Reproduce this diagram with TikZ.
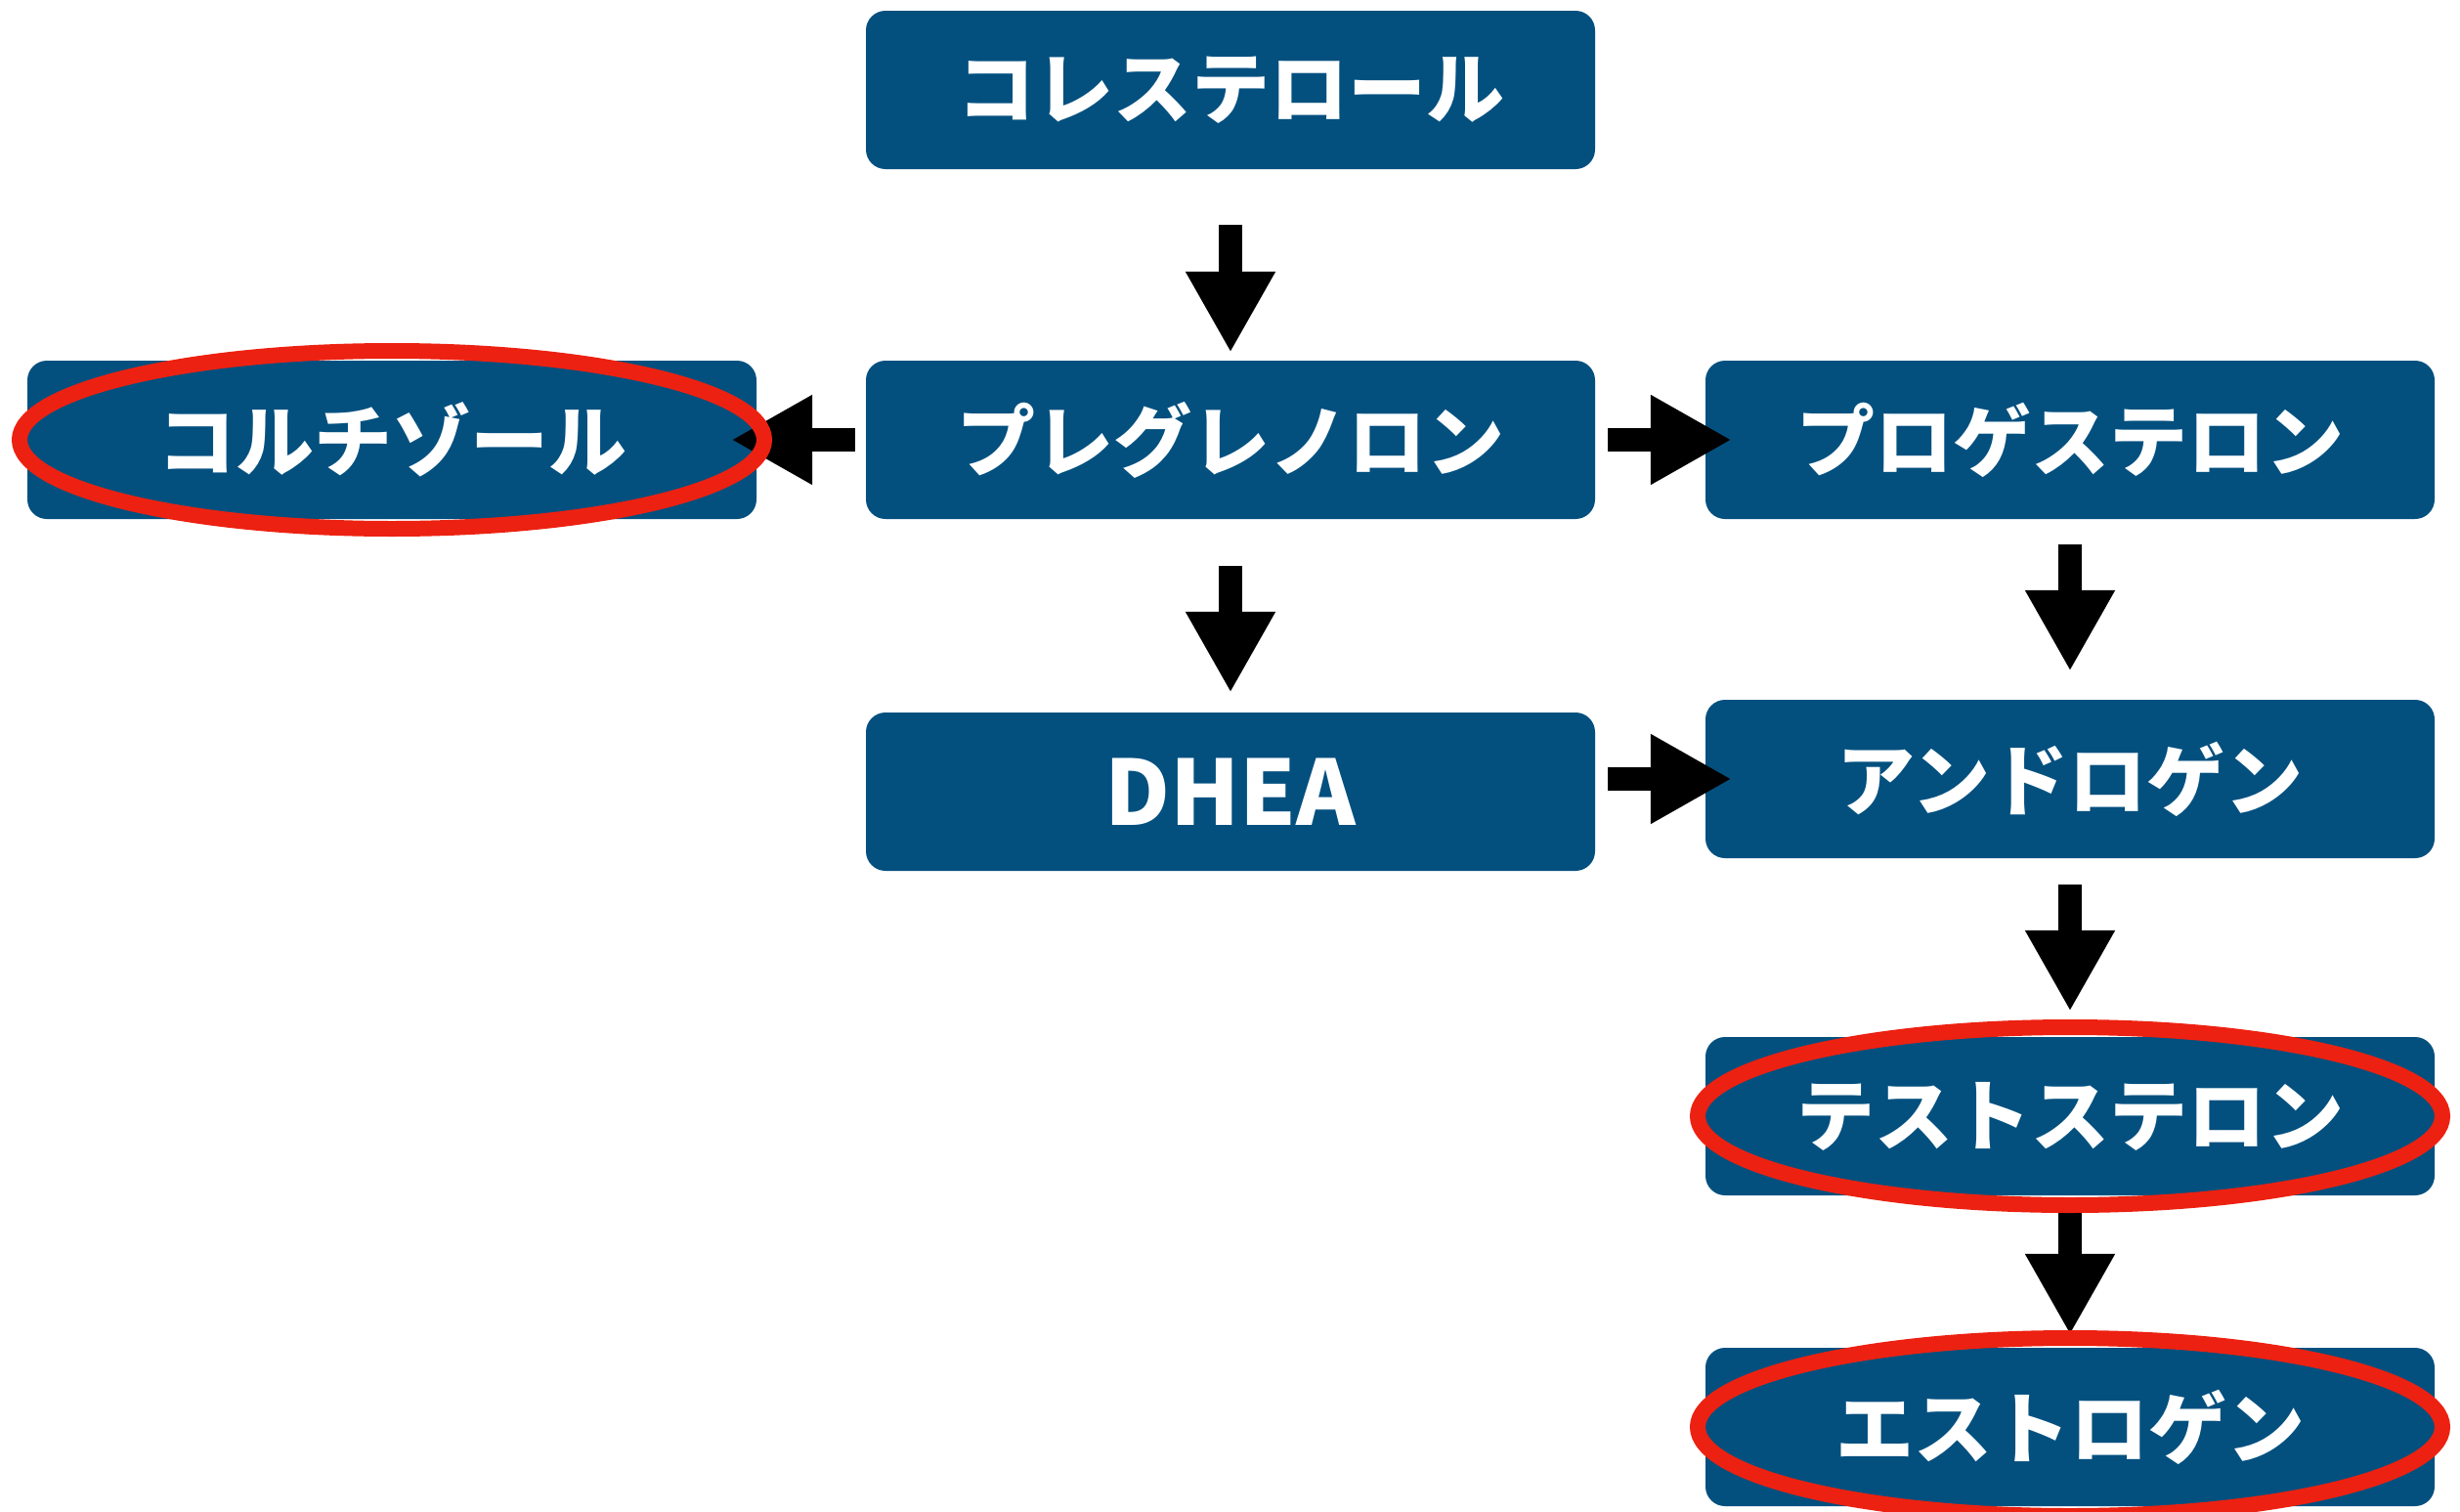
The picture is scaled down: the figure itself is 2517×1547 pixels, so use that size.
\documentclass[tikz,border=0pt]{standalone}
\usepackage{fontspec}
\newfontfamily\jp{Noto Sans CJK JP}
\usetikzlibrary{arrows.meta,shapes.geometric}
\definecolor{boxblue}{HTML}{03507F}
\definecolor{ringred}{HTML}{EC2111}
\begin{document}
\begin{tikzpicture}[x=1pt,y=-1pt,
  box/.style={fill=boxblue, rounded corners=20pt, minimum width=746pt, minimum height=162pt,
    inner sep=0pt, text=white, font=\jp\bfseries\fontsize{80}{90}\selectfont},
  arr/.style={line width=24pt, line cap=butt, -{Triangle[length=83pt,width=86pt]}},
  ring/.style={draw=ringred, line width=16pt, ellipse, inner sep=0pt, minimum width=762pt, minimum height=182pt}]
\useasboundingbox (0,0) rectangle (2517,1547);
\node[box] (chol) at (1259,92) {コレステロール};
\node[box] (preg) at (1259,450) {プレグレノロン};
\node[box] (cort) at (401,450) {コルチゾール};
\node[box] (prog) at (2118,450) {プロゲステロン};
\node[box, font=\jp\bfseries\fontsize{92}{100}\selectfont] (dhea) at (1259,810) {DHEA};
\node[box] (andro) at (2118,797) {アンドロゲン};
\node[box] (testo) at (2118,1142) {テストステロン};
\node[box] (estro) at (2118,1460) {エストロゲン};

\draw[arr, shorten <=57pt, shorten >=8pt] (chol.south) -- (preg.north);
\draw[arr, shorten <=11pt, shorten >=-26pt] (preg.west) -- (cort.east);
\draw[arr, shorten <=13pt, shorten >=-27pt] (preg.east) -- (prog.west);
\draw[arr, shorten <=48pt, shorten >=20pt] (preg.south) -- (dhea.north);
\draw[arr, shorten <=13pt, shorten >=-27pt] (dhea.east |- andro.west) -- (andro.west);
\draw[arr, shorten <=26pt, shorten >=29pt] (prog.south) -- (andro.north);
\draw[arr, shorten <=27pt, shorten >=26pt] (andro.south) -- (testo.north);
\draw[arr, shorten <=14pt, shorten >=13pt] (testo.south) -- (estro.north);

\node[ring] (cortring) at (cort) {};
\node[ring] (testoring) at (testo) {};
\node[ring] (estroring) at (estro) {};
\end{tikzpicture}
\end{document}
